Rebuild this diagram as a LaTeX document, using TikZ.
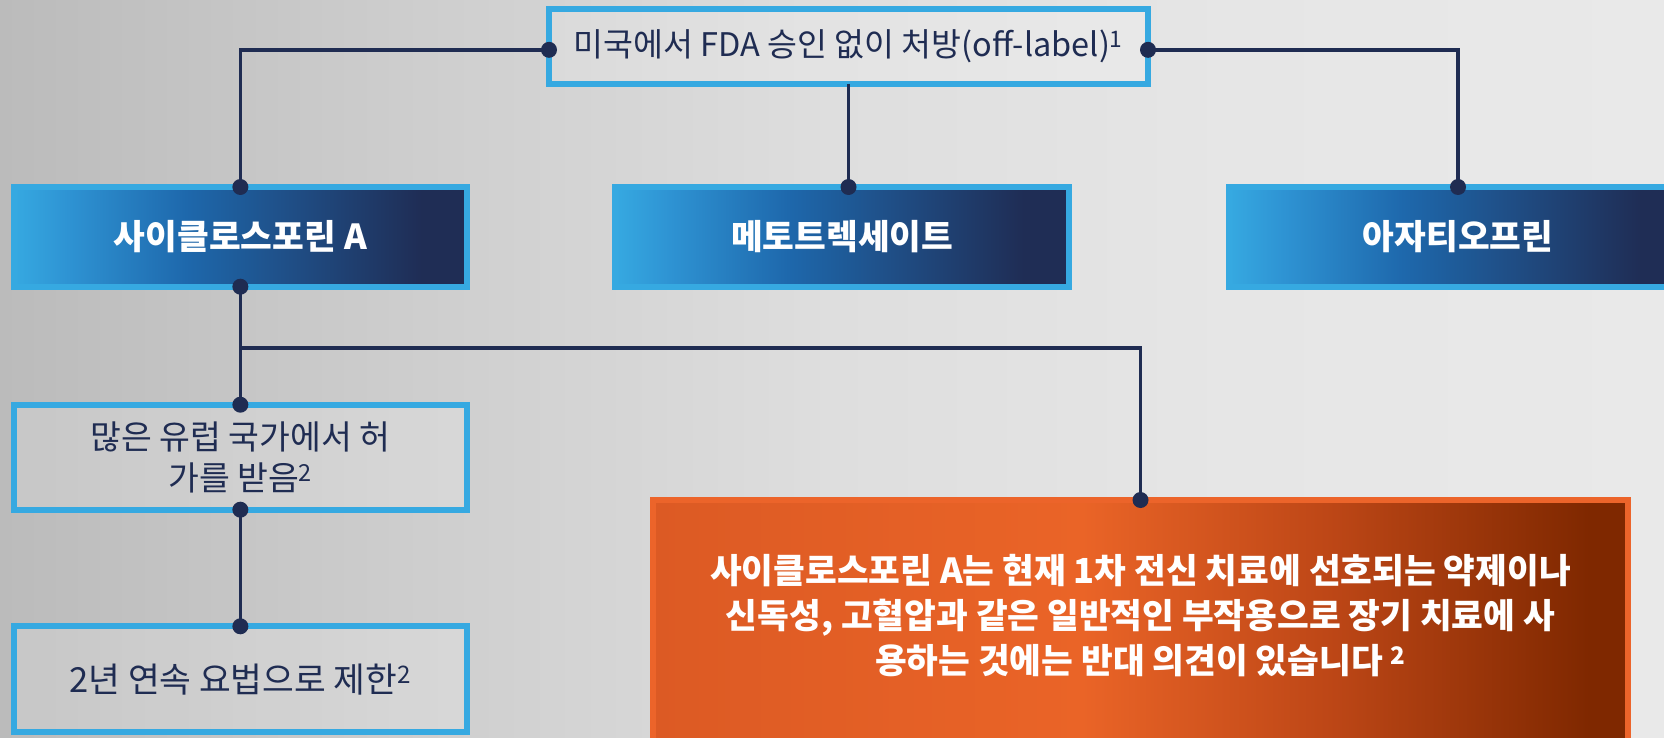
\documentclass[tikz,border=0pt]{standalone}
\usepackage{fontspec}
\setmainfont{Noto Sans CJK KR}
\usetikzlibrary{calc}
\definecolor{lb}{HTML}{36A9E1}
\definecolor{navy}{HTML}{1F2C52}
\definecolor{bgA}{HTML}{BBBBBB}
\definecolor{bgB}{HTML}{CDCDCD}
\definecolor{bgC}{HTML}{DEDEDE}
\definecolor{bgD}{HTML}{E6E6E6}
\definecolor{bgE}{HTML}{E9E9E9}
\definecolor{blA}{HTML}{2E93D3}
\definecolor{blB}{HTML}{1E68AC}
\definecolor{blC}{HTML}{1F4477}
\definecolor{blD}{HTML}{1F2D55}
\definecolor{orB}{HTML}{EC642A}
\definecolor{orA}{HTML}{DC5A24}
\definecolor{orC}{HTML}{EA6427}
\definecolor{orD}{HTML}{BC4616}
\definecolor{orE}{HTML}{7F2800}
\pgfdeclarehorizontalshading{bgshade}{100bp}{color(0bp)=(bgA); color(25bp)=(bgA); color(37bp)=(bgB); color(50bp)=(bgC); color(62bp)=(bgD); color(75bp)=(bgE); color(100bp)=(bgE)}
\pgfdeclarehorizontalshading{blueg}{100bp}{color(0bp)=(lb); color(25bp)=(lb); color(31bp)=(blA); color(44bp)=(blB); color(60bp)=(blC); color(70bp)=(blD); color(100bp)=(blD)}
\pgfdeclarehorizontalshading{orangeg}{100bp}{color(0bp)=(orA); color(25bp)=(orA); color(47bp)=(orC); color(60bp)=(orD); color(73bp)=(orE); color(100bp)=(orE)}
\tikzset{
  bluebox/.style={draw=lb, line width=6pt, shading=blueg, inner sep=0pt, outer sep=0pt,
    text=white, font=\bfseries\fontsize{34.5}{40}\selectfont, minimum height=99.7pt},
  greybox/.style={draw=lb, line width=6pt, fill=white, fill opacity=0.18, text opacity=1,
    inner sep=0pt, outer sep=0pt, text=navy, align=center, font=\fontsize{33.5}{41}\selectfont},
  orangebox/.style={draw=orB, line width=6pt, shading=orangeg, inner sep=0pt, outer sep=0pt},
  orangetext/.style={inner sep=0pt, text=white, align=center, font=\bfseries\fontsize{34.5}{45}\selectfont},
  conn/.style={draw=navy, line width=3.5pt},
  jdot/.style={fill=navy}
}
\begin{document}
\begin{tikzpicture}[x=1pt,y=-1pt]
\useasboundingbox (0,0) rectangle (1664,738);
\clip (0,0) rectangle (1664,738);
\shade[shading=bgshade] (0,0) rectangle (1664,738);

\node[greybox, minimum width=599pt, minimum height=74.7pt, font=\fontsize{32.5}{40}\selectfont] (t) at (848.5,46.35)
  {미국에서 FDA 승인 없이 처방(off-label)\textsuperscript{1}};
\node[bluebox, minimum width=453.3pt] (b1) at (240.35,236.85) {사이클로스포린 A};
\node[bluebox, minimum width=453.7pt] (b2) at (842.15,236.85) {메토트렉세이트};
\node[bluebox, minimum width=458pt] (b3) at (1458,236.85) {아자티오프린};
\node[greybox, minimum width=453.3pt, minimum height=105pt] (b4) at (240.35,457.2)
  {많은 유럽 국가에서 허\\가를 받음\textsuperscript{2}};
\node[greybox, minimum width=453.3pt, minimum height=105.7pt, font=\fontsize{34.5}{41}\selectfont] (b5) at (240.35,679.15)
  {2년 연속 요법으로 제한\textsuperscript{2}};
\node[orangebox, minimum width=975pt, minimum height=247pt] (o) at (1140.5,623.5) {};
\node[orangetext] (otext) at ([yshift=7.5pt]o.center)
  {사이클로스포린 A는 현재 1차 전신 치료에 선호되는 약제이나\\
   신독성, 고혈압과 같은 일반적인 부작용으로 장기 치료에 사\\
   용하는 것에는 반대 의견이 있습니다 \textsuperscript{2}};

\coordinate (tl) at ([yshift=-3.5pt]t.west);
\coordinate (tr) at ([yshift=-3.5pt]t.east);
\coordinate (br) at ($(b1.south)!0.52!(b4.north)$);

\draw[conn] (tl) -| (b1.north);
\draw[conn] (tr) -| (b3.north);
\draw[conn] (t.south) -- (t.south |- b2.north);
\draw[conn] (b1.south) -- (b4.north);
\draw[conn] (br) -| (o.north);
\draw[conn] (b4.south) -- (b5.north);

\foreach \p in {tl,tr,b1.north,b1.south,b3.north,b4.north,b4.south,b5.north,o.north}
  \fill[jdot] (\p) circle (8pt);
\fill[jdot] (t.south |- b2.north) circle (8pt);
\end{tikzpicture}
\end{document}
